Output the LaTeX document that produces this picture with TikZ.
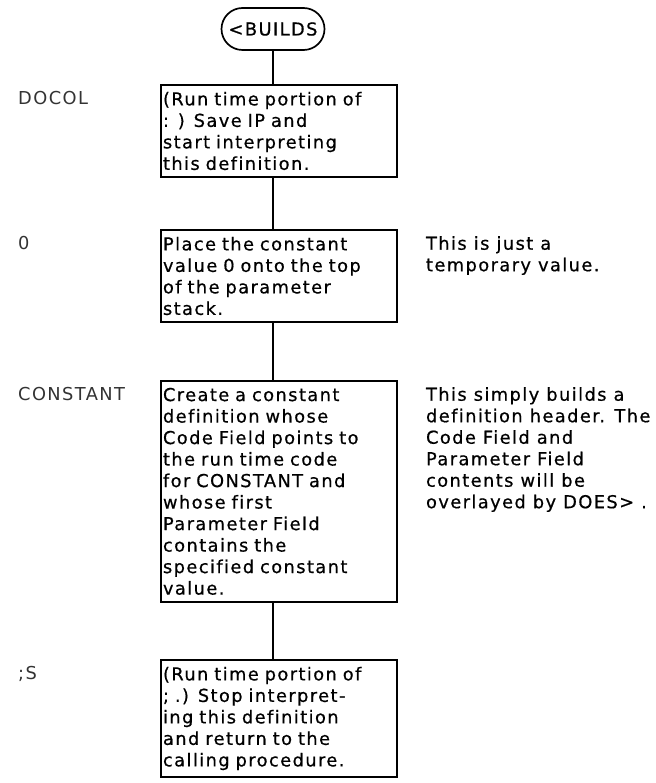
\documentclass[tikz,border=0pt]{standalone}
\usepackage{fontspec}
\setmainfont{DejaVu Sans}[LetterSpace=8,Ligatures=NoCommon,FakeBold=0.6]
\newfontfamily\tagfont{DejaVu Sans}[LetterSpace=8]
\usetikzlibrary{positioning}

\begin{document}
\begin{tikzpicture}[x=1pt,y=1pt,every node/.style={font=\fontsize{17.8}{21.5}\selectfont},
  term/.style={draw,line width=1.7pt,rounded corners=21pt,minimum width=103pt,minimum height=42pt,inner xsep=3pt},
  stepbox/.style={draw,line width=1.7pt,text width=232pt,align=left,inner xsep=2pt,inner ysep=7pt,anchor=north},
  tag/.style={anchor=north west,inner sep=0pt,text=black!80,font=\tagfont\fontsize{17.8}{21.5}\selectfont},
  note/.style={align=left,inner sep=0pt},
  link/.style={line width=1.8pt}]
\useasboundingbox (0,0) rectangle (655,-783);
\node[term] (builds) at (273,-29) {<BUILDS};
\node[stepbox] (docol) at (279,-84) {(Run time portion of\\: ) Save IP and\\start interpreting\\this definition.};
\node[stepbox] (zero) at (279,-229) {Place the constant\\value 0 onto the top\\of the parameter\\stack.};
\node[stepbox] (constant) at (279,-380) {Create a constant\\definition whose\\Code Field points to\\the run time code\\for CONSTANT and\\whose first\\Parameter Field\\contains the\\specified constant\\value.};
\node[stepbox] (semis) at (279,-659) {(Run time portion of\\; .) Stop interpret-\\ing this definition\\and return to the\\calling procedure.};
\draw[link] (builds) -- (builds |- docol.north);
\draw[link] (builds |- docol.south) -- (builds |- zero.north);
\draw[link] (builds |- zero.south) -- (builds |- constant.north);
\draw[link] (builds |- constant.south) -- (builds |- semis.north);
\node[tag] (docolTag) at (18,-91) {DOCOL};
\node[tag] (zeroTag) at (18,-236) {0};
\node[tag] (constantTag) at (18,-387) {CONSTANT};
\node[tag] (semisTag) at (18,-666) {;S};
\node[note,right=28pt of zero.north east,anchor=north west,yshift=-7pt] (zeroNote) {This is just a\\temporary value.};
\node[note,right=28pt of constant.north east,anchor=north west,yshift=-7pt] (constantNote) {This simply builds a\\definition header. The\\Code Field and\\Parameter Field\\contents will be\\overlayed by DOES> .};
\end{tikzpicture}
\end{document}
